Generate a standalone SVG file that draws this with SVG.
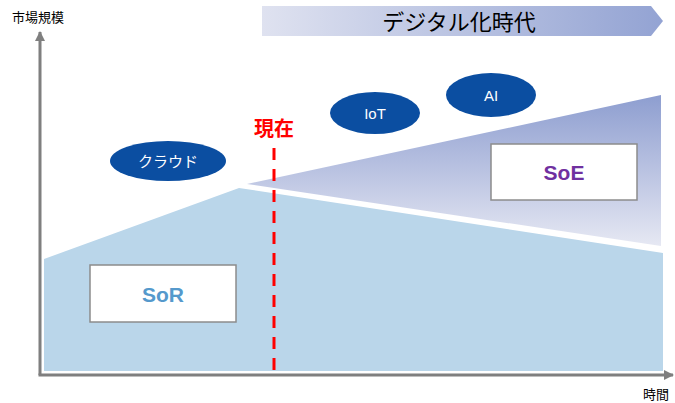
<svg xmlns="http://www.w3.org/2000/svg" width="675" height="403" viewBox="0 0 675 403">
<defs>
<linearGradient id="gBanner" x1="0" y1="0" x2="1" y2="0"><stop offset="0" stop-color="#dfe2f0"/><stop offset="1" stop-color="#93a3d3"/></linearGradient>
<linearGradient id="gSoE" x1="0" y1="96" x2="0" y2="246" gradientUnits="userSpaceOnUse"><stop offset="0" stop-color="#8e9ed0"/><stop offset="1" stop-color="#e6e8f3"/></linearGradient>
<marker id="arr" viewBox="0 0 10 10" refX="9" refY="5" markerWidth="3.4" markerHeight="3.4" orient="auto" markerUnits="strokeWidth"><path d="M0,0 L10,5 L0,10 z" fill="#7f7f7f"/></marker>
<style>
.lbl{font-family:"Noto Sans CJK JP","Liberation Sans",sans-serif;fill:#000}
.ell{fill:#0b4ea1}
.et{font-family:"Liberation Sans","Noto Sans CJK JP",sans-serif;font-size:15px;fill:#fff;text-anchor:middle}
.box{fill:#fff;stroke:#8c8c8c;stroke-width:1.5}
.bt{font-family:"Liberation Sans",Arial,sans-serif;font-weight:bold;font-size:21px;text-anchor:middle}
.axis{stroke:#7f7f7f;stroke-width:3;fill:none}
</style>
</defs>
<g id="banner">
<path d="M262,6 H651 L663,21 L651,36 H262 Z" fill="url(#gBanner)"/>
<text class="lbl" x="459" y="30" font-size="22" text-anchor="middle">デジタル化時代</text>
</g>
<g id="sor-area"><path d="M44,259 L239,188 L663,253 L663,371 L44,371 Z" fill="#bad6ea"/></g>
<g id="soe-area"><path d="M247,184 L661,95 L661,246 Z" fill="url(#gSoE)"/></g>
<g id="connectors">
<line class="axis" x1="40" y1="375" x2="40" y2="32" marker-end="url(#arr)"/>
<line class="axis" x1="38.5" y1="375" x2="673" y2="375" marker-end="url(#arr)"/>
<line x1="274" y1="148" x2="274" y2="375" stroke="#ff0000" stroke-width="3" stroke-dasharray="12,9"/>
</g>
<g id="now"><text x="274" y="136" font-family="Noto Sans CJK JP,sans-serif" font-weight="bold" font-size="20" fill="#ff0000" text-anchor="middle">現在</text></g>
<g id="cloud"><ellipse class="ell" cx="168" cy="161" rx="58" ry="20"/><text class="et" x="168" y="167" font-family="Noto Sans CJK JP,sans-serif">クラウド</text></g>
<g id="iot"><ellipse class="ell" cx="375" cy="113" rx="45" ry="21"/><text class="et" x="375" y="119">IoT</text></g>
<g id="ai"><ellipse class="ell" cx="491" cy="95" rx="45" ry="22"/><text class="et" x="491" y="101">AI</text></g>
<g id="soe"><rect class="box" x="491" y="144" width="146" height="56"/><text class="bt" x="564" y="180" fill="#7030a0">SoE</text></g>
<g id="sor"><rect class="box" x="90" y="265" width="146" height="57"/><text class="bt" x="163" y="302" fill="#5599cc">SoR</text></g>
<g id="labels">
<text class="lbl" x="12" y="22" font-size="13">市場規模</text>
<text class="lbl" x="643" y="399" font-size="13">時間</text>
</g>
</svg>
